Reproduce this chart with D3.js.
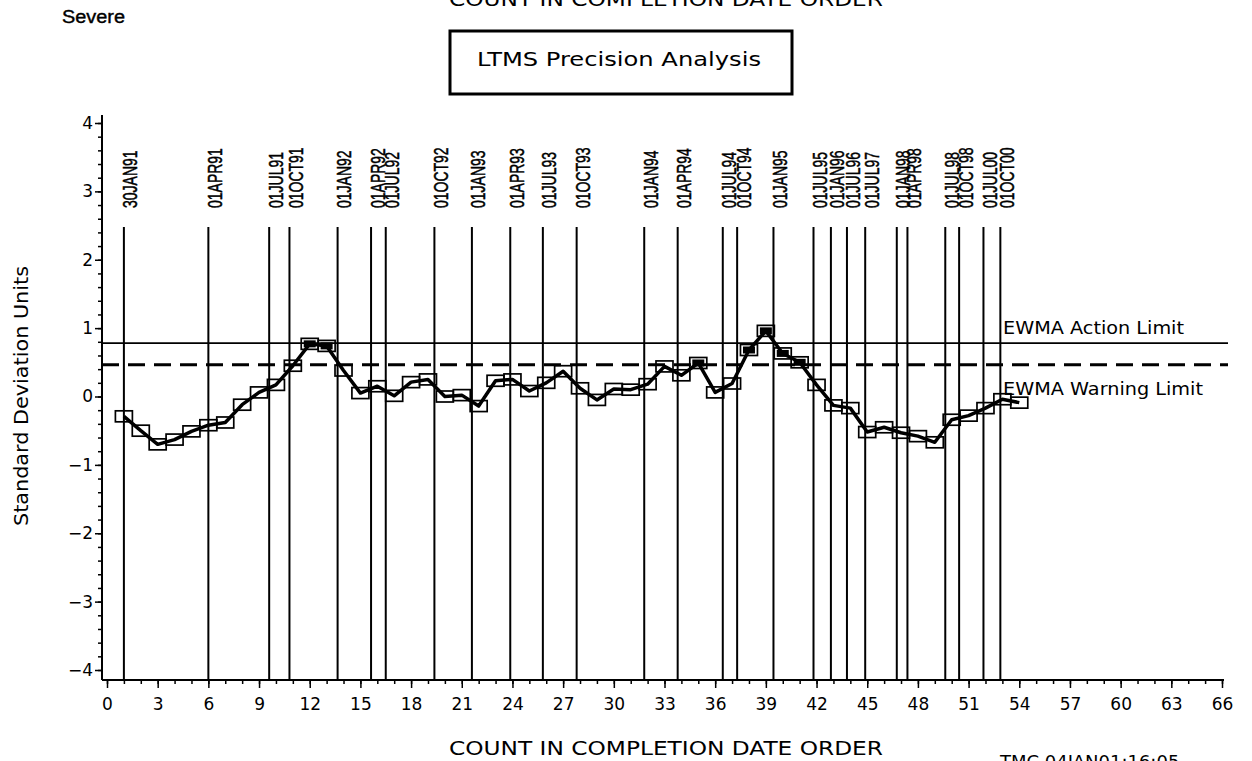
<!DOCTYPE html>
<html>
<head>
<meta charset="utf-8">
<script src="https://cdn.jsdelivr.net/npm/d3@7"></script>
<style>
  html, body { margin: 0; padding: 0; background: #fff; }
  svg { display: block; }
  text { fill: #000; }
</style>
</head>
<body>
<svg id="chart" width="1252" height="761"></svg>
<script>
// EWMA of precision results, one value per test in completion-date order (count 1..54)
const ewmaValues = [
  -0.29, -0.50, -0.70, -0.63, -0.51, -0.42, -0.38, -0.12, 0.06, 0.17,
   0.45,  0.77,  0.74,  0.38,  0.05,  0.15,  0.01,  0.21, 0.25, 0.00,
   0.02, -0.14,  0.23,  0.25,  0.08,  0.20,  0.37,  0.12, -0.05, 0.11,
   0.10,  0.18,  0.44,  0.31,  0.49,  0.06,  0.19,  0.68, 0.96, 0.63,
   0.50,  0.17, -0.13, -0.17, -0.52, -0.45, -0.53, -0.58, -0.67, -0.34,
  -0.28, -0.17, -0.04, -0.09
];

// Calendar reference lines: date label and its position on the count axis
const dateLabels = [
  "30JAN91", "01APR91", "01JUL91", "01OCT91", "01JAN92", "01APR92", "01JUL92",
  "01OCT92", "01JAN93", "01APR93", "01JUL93", "01OCT93", "01JAN94", "01APR94",
  "01JUL94", "01OCT94", "01JAN95", "01JUL95", "01JAN96", "01JUL96", "01JUL97",
  "01JAN98", "01APR98", "01JUL98", "01OCT98", "01JUL00", "01OCT00"
];
const datePositions = [
  1.0, 6.0, 9.6, 10.8, 13.65, 15.63, 16.5,
  19.38, 21.6, 23.87, 25.8, 27.8, 31.8, 33.78,
  36.45, 37.3, 39.45, 41.82, 42.85, 43.8, 44.88,
  46.75, 47.38, 49.62, 50.44, 51.88, 52.88
];

// Control limits (standard deviation units)
const actionLimit = 0.78;
const warningLimit = 0.465;
const limitLabels = ["EWMA Action Limit", "EWMA Warning Limit"];

// Axis ticks
const xMajorTicks = [0, 3, 6, 9, 12, 15, 18, 21, 24, 27, 30, 33, 36, 39, 42, 45, 48, 51, 54, 57, 60, 63, 66];
const xMinorTicks = d3.range(0, 67);
const yMajorTicks = [-4, -3, -2, -1, 0, 1, 2, 3, 4];
const yMinorTicks = d3.range(-40, 41, 2).map(d => d / 10);

const svg = d3.select("#chart");
const font = "'DejaVu Sans', sans-serif";

const x = d3.scaleLinear().domain([0, 66]).range([107, 1222]);
const y = d3.scaleLinear().domain([-4, 4]).range([670, 123]);
const axisLeftX = 102;
const axisBottomY = 680;

// Headings
svg.append("text")
  .attr("x", 62).attr("y", 23)
  .attr("font-family", "'Liberation Sans', Arial, sans-serif")
  .attr("font-size", 18)
  .attr("stroke", "#000").attr("stroke-width", 0.4)
  .attr("textLength", 63).attr("lengthAdjust", "spacingAndGlyphs")
  .text("Severe");

svg.append("text")
  .attr("x", 449).attr("y", 6)
  .attr("font-family", font).attr("font-size", 20)
  .attr("textLength", 434).attr("lengthAdjust", "spacingAndGlyphs")
  .text("COUNT IN COMPLETION DATE ORDER");

svg.append("rect")
  .attr("x", 450).attr("y", 31).attr("width", 342).attr("height", 63)
  .attr("fill", "none").attr("stroke", "#000").attr("stroke-width", 3);
svg.append("text")
  .attr("x", 477).attr("y", 66)
  .attr("font-family", font).attr("font-size", 20)
  .attr("textLength", 284).attr("lengthAdjust", "spacingAndGlyphs")
  .text("LTMS Precision Analysis");

// Vertical date reference lines
svg.append("g").selectAll("line")
  .data(datePositions)
  .join("line")
  .attr("x1", d => x(d)).attr("x2", d => x(d))
  .attr("y1", y(2.48)).attr("y2", axisBottomY)
  .attr("stroke", "#000").attr("stroke-width", 2);

svg.append("g").selectAll("text")
  .data(dateLabels)
  .join("text")
  .attr("transform", (d, i) => `translate(${x(datePositions[i]) + 13.5},208) rotate(-90) scale(0.7,1)`)
  .attr("font-family", "'Liberation Sans', Arial, sans-serif")
  .attr("font-size", 20)
  .attr("stroke", "#000").attr("stroke-width", 0.5)
  .text(d => d);

// Control limit lines
svg.append("line")
  .attr("x1", axisLeftX).attr("x2", 1228)
  .attr("y1", y(actionLimit)).attr("y2", y(actionLimit))
  .attr("stroke", "#000").attr("stroke-width", 1.6);
svg.append("line")
  .attr("x1", axisLeftX).attr("x2", 1228)
  .attr("y1", y(warningLimit)).attr("y2", y(warningLimit))
  .attr("stroke", "#000").attr("stroke-width", 3)
  .attr("stroke-dasharray", "17,9");

svg.append("text")
  .attr("x", 1003).attr("y", 334)
  .attr("font-family", font).attr("font-size", 17)
  .attr("textLength", 181).attr("lengthAdjust", "spacingAndGlyphs")
  .text(limitLabels[0]);
svg.append("text")
  .attr("x", 1003).attr("y", 395)
  .attr("font-family", font).attr("font-size", 17)
  .attr("textLength", 200).attr("lengthAdjust", "spacingAndGlyphs")
  .text(limitLabels[1]);

// EWMA series
const line = d3.line()
  .x((d, i) => x(i + 1))
  .y(d => y(d));

svg.append("path")
  .datum(ewmaValues)
  .attr("d", line)
  .attr("fill", "none")
  .attr("stroke", "#000")
  .attr("stroke-width", 3.5)
  .attr("stroke-linejoin", "round");

const markers = svg.append("g").selectAll("g")
  .data(ewmaValues)
  .join("g")
  .attr("transform", (d, i) => `translate(${x(i + 1)},${y(d)})`);

markers.append("rect")
  .attr("x", -8.5).attr("y", -5.5).attr("width", 17).attr("height", 11)
  .attr("fill", "none").attr("stroke", "#000").attr("stroke-width", 1.7);

// Points beyond the warning limit get a solid core
markers.filter(d => d > warningLimit)
  .append("rect")
  .attr("x", -6).attr("y", -3.5).attr("width", 12).attr("height", 7)
  .attr("fill", "#000");

// Y axis
svg.append("g").attr("transform", `translate(${axisLeftX},0)`)
  .call(d3.axisLeft(y).tickValues(yMinorTicks).tickSize(4).tickFormat(""))
  .call(g => g.select(".domain").remove());
const yMajor = svg.append("g").attr("transform", `translate(${axisLeftX},0)`)
  .call(d3.axisLeft(y).tickValues(yMajorTicks).tickSize(7).tickPadding(2))
  .call(g => g.select(".domain").remove());
yMajor.selectAll("text")
  .attr("font-family", font).attr("font-size", 17);

svg.append("line")
  .attr("x1", axisLeftX).attr("x2", axisLeftX)
  .attr("y1", 115).attr("y2", axisBottomY)
  .attr("stroke", "#000").attr("stroke-width", 2);

// X axis
svg.append("g").attr("transform", `translate(0,${axisBottomY})`)
  .call(d3.axisBottom(x).tickValues(xMinorTicks).tickSize(4).tickFormat(""))
  .call(g => g.select(".domain").remove());
const xMajor = svg.append("g").attr("transform", `translate(0,${axisBottomY})`)
  .call(d3.axisBottom(x).tickValues(xMajorTicks).tickSize(8).tickPadding(10))
  .call(g => g.select(".domain").remove());
xMajor.selectAll("text")
  .attr("font-family", font).attr("font-size", 17);
svg.selectAll(".tick line").attr("stroke-width", 1.5);

svg.append("line")
  .attr("x1", axisLeftX).attr("x2", 1224)
  .attr("y1", axisBottomY).attr("y2", axisBottomY)
  .attr("stroke", "#000").attr("stroke-width", 2);

// Axis titles
svg.append("text")
  .attr("x", 449).attr("y", 755)
  .attr("font-family", font).attr("font-size", 20)
  .attr("textLength", 434).attr("lengthAdjust", "spacingAndGlyphs")
  .text("COUNT IN COMPLETION DATE ORDER");

svg.append("text")
  .attr("transform", "translate(28,526) rotate(-90)")
  .attr("font-family", font).attr("font-size", 19)
  .attr("textLength", 260).attr("lengthAdjust", "spacingAndGlyphs")
  .text("Standard Deviation Units");

// Run stamp in the lower corner
svg.append("text")
  .attr("x", 1000).attr("y", 768)
  .attr("font-family", font).attr("font-size", 18)
  .text("TMC  04JAN01:16:05");
</script>
</body>
</html>
